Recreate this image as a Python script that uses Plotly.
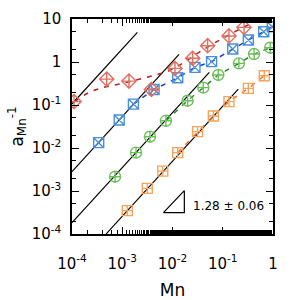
import numpy as np
import plotly.graph_objects as go

# ---- data ----
red_x = [1.1e-4, 4.9e-4, 1.36e-3, 3.8e-3, 0.0112, 0.0252, 0.050, 0.133, 0.265]
red_y = [0.12, 0.40, 0.36, 0.23, 0.71, 1.22, 2.39, 4.03, 6.4]
red_fit_logx = [-3.95, -3.68, -3.42, -3.15, -2.89, -2.59, -2.33, -2.08, -1.785, -1.453, -1.154, -0.756, -0.458, -0.40]
red_fit_logy = [-0.92, -0.72, -0.605, -0.535, -0.465, -0.38, -0.30, -0.21, -0.02, 0.24, 0.449, 0.705, 0.884, 0.915]

blue_x = [3.4e-4, 8.7e-4, 1.67e-3, 4.3e-3, 0.0127, 0.028, 0.060, 0.158, 0.323, 0.653, 0.97]
blue_y = [0.0133, 0.0448, 0.105, 0.23, 0.43, 0.75, 1.02, 2.0, 3.25, 5.07, 6.6]
blue_fit_start = 2

green_x = [7.2e-4, 1.88e-3, 3.56e-3, 7.4e-3, 0.020, 0.041, 0.0815, 0.21, 0.42, 0.88]
green_y = [2.15e-3, 7.8e-3, 0.0183, 0.043, 0.126, 0.253, 0.50, 0.93, 1.53, 2.15]
green_fit_start = 3

orange_x = [1.26e-3, 3.15e-3, 6.4e-3, 0.0127, 0.0316, 0.065, 0.133, 0.323, 0.67]
orange_y = [3.5e-4, 1.15e-3, 2.9e-3, 7.8e-3, 0.024, 0.0555, 0.12, 0.244, 0.48]
orange_fit_start = 3

slope = 1.28
line_intercepts = [4.143, 2.569, 1.383, 0.253]
line_xmin = [1e-4, 1e-4, 1e-4, 4.75e-4]
line_xmax = [2.0e-3, 0.0135, 0.054, 0.204]

tri_x = [6.6e-3, 0.0172, 0.0172, 6.6e-3]
tri_y = [3.13e-4, 1.02e-3, 3.13e-4, 3.13e-4]
slope_label = "1.28 ± 0.06"

x_tickvals = [1e-4, 1e-3, 1e-2, 1e-1, 1]
x_ticktext = ["10<sup>-4</sup>", "10<sup>-3</sup>", "10<sup>-2</sup>", "10<sup>-1</sup>", "1"]
y_tickvals = [1e-4, 1e-3, 1e-2, 1e-1, 1, 10]
y_ticktext = ["10<sup>-4</sup>", "10<sup>-3</sup>", "10<sup>-2</sup>", "10<sup>-1</sup>", "1", "10"]

FONT = "DejaVu Sans"
fig = go.Figure()

# black reference lines (slope 1.28)
for a, x0, x1 in zip(line_intercepts, line_xmin, line_xmax):
    lx = np.logspace(np.log10(x0), np.log10(x1), 20)
    ly = 10 ** (a + slope * np.log10(lx))
    fig.add_trace(go.Scatter(x=lx, y=ly, mode="lines",
                             line=dict(color="black", width=1.2), showlegend=False))

series = [
    (blue_x, blue_y, blue_fit_start, "#4a8fdc", "#1f3fc0", "square-x-open", 10),
    (green_x, green_y, green_fit_start, "#6cbf5a", "#2a8a2a", "circle-cross-open", 11),
    (orange_x, orange_y, orange_fit_start, "#f7a35c", "#e8742a", "square-cross-open", 10),
]
for xs, ys, st, mc, lc, sym, sz in series:
    fig.add_trace(go.Scatter(x=xs[st:], y=ys[st:], mode="lines",
                             line=dict(color=lc, width=1.5, dash="5px,6px"), showlegend=False))
    fig.add_trace(go.Scatter(x=xs, y=ys, mode="markers",
                             marker=dict(symbol=sym, size=sz, color=mc, line=dict(color=mc, width=1.4)),
                             showlegend=False))

# red
fig.add_trace(go.Scatter(x=[10 ** v for v in red_fit_logx], y=[10 ** v for v in red_fit_logy],
                         mode="lines", line=dict(color="#b22222", width=1.5, dash="5px,6px", shape="spline"),
                         showlegend=False))
fig.add_trace(go.Scatter(x=red_x, y=red_y, mode="markers",
                         marker=dict(symbol="diamond-cross-open", size=11, color="#e07060",
                                     line=dict(color="#e07060", width=1.4)), showlegend=False))

# slope triangle
fig.add_trace(go.Scatter(x=tri_x, y=tri_y, mode="lines",
                         line=dict(color="black", width=1.2), showlegend=False))
fig.add_annotation(text=slope_label, xref="paper", yref="paper", x=0.59, y=0.13,
                   xanchor="left", yanchor="middle", showarrow=False,
                   font=dict(family=FONT, size=12, color="black"))

axis_common = dict(type="log", showgrid=False, zeroline=False, showline=True, linecolor="black",
                   linewidth=1.5, mirror="allticks", ticks="inside", ticklen=7, tickwidth=1.2,
                   tickcolor="black", tickfont=dict(family=FONT, size=15, color="black"),
                   automargin=False,
                   minor=dict(ticks="inside", ticklen=4, tickwidth=1, tickcolor="black", showgrid=False))

fig.update_xaxes(range=[-4, 0], tickvals=x_tickvals, ticktext=x_ticktext, ticklabelstandoff=15,
                 title=dict(text="Mn", font=dict(family=FONT, size=17, color="black"), standoff=20),
                 **axis_common)
fig.update_yaxes(range=[-4, 1], tickvals=y_tickvals, ticktext=y_ticktext, ticklabelstandoff=6,
                 title=dict(text="a<sub>Mn</sub><sup>-1</sup>", font=dict(family=FONT, size=17, color="black"), standoff=4),
                 **axis_common)

fig.update_layout(width=300, height=300, margin=dict(l=72, r=27, t=19, b=66),
                  plot_bgcolor="white", paper_bgcolor="white", showlegend=False)

fig.write_html("out.html")
